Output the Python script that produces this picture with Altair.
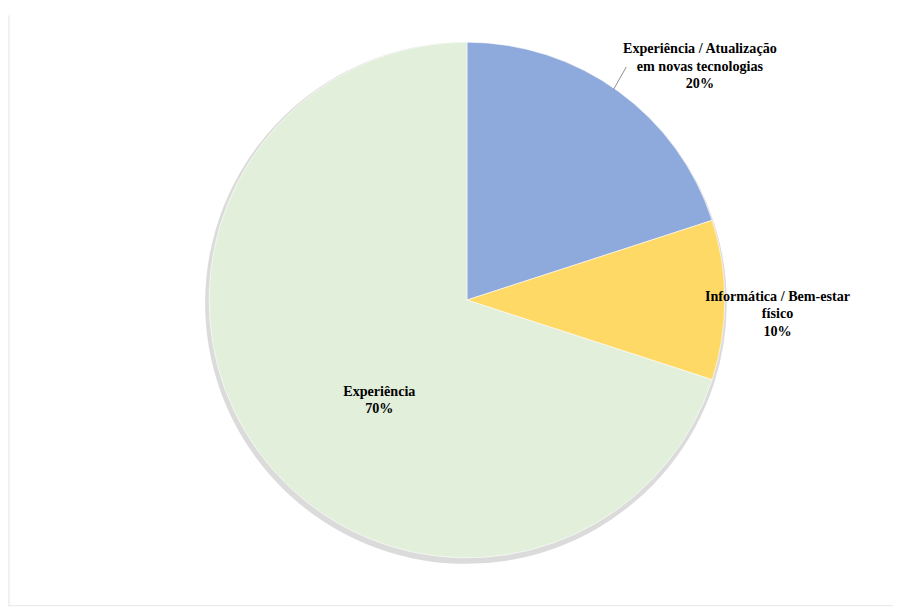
import altair as alt
import pandas as pd

categories = ["Experiência / Atualização em novas tecnologias", "Informática / Bem-estar físico", "Experiência"]
label_lines = [
    ["Experiência / Atualização", "em novas tecnologias", "20%"],
    ["Informática / Bem-estar", "físico", "10%"],
    ["Experiência", "70%"],
]
values = [20, 10, 70]
colors = ["#8EA9DB", "#FFD966", "#E2EFDA"]

df = pd.DataFrame({"cat": categories, "value": values, "idx": list(range(len(values)))})

CX, CY, R = 458, 292, 259

shadow = alt.Chart(df).mark_arc(radius=R + 3, color="#bdbdbd", opacity=0.55).encode(
    theta=alt.Theta("value:Q", stack=True),
    order=alt.Order("idx:Q"),
    x=alt.value(CX - 1), y=alt.value(CY + 3),
)

pie = alt.Chart(df).mark_arc(radius=R, stroke="#ffffff", strokeWidth=0.6).encode(
    theta=alt.Theta("value:Q", stack=True),
    color=alt.Color("cat:N", scale=alt.Scale(domain=categories, range=colors), legend=None),
    order=alt.Order("idx:Q"),
    x=alt.value(CX), y=alt.value(CY),
)

label_pos = [(692, 40), (770, 289), (370, 384)]
text_layers = []
for lines, (px, py) in zip(label_lines, label_pos):
    t = alt.Chart(pd.DataFrame({"t": [lines]})).mark_text(
        font="Liberation Serif", fontWeight="bold", fontSize=14.2, lineHeight=17.5,
        align="center", baseline="middle", color="#000000",
    ).encode(text="t", x=alt.value(px), y=alt.value(py))
    text_layers.append(t)

leader = alt.Chart(pd.DataFrame({"a": [0]})).mark_rule(color="#8c8c8c", strokeWidth=1).encode(
    x=alt.value(618), y=alt.value(58), x2=alt.value(605), y2=alt.value(81)
)

border_l = alt.Chart(pd.DataFrame({"a": [0]})).mark_rule(color="#e4e4e4", strokeWidth=1).encode(
    x=alt.value(-2), y=alt.value(6), y2=alt.value(600)
)
border_b = alt.Chart(pd.DataFrame({"a": [0]})).mark_rule(color="#e8e8e8", strokeWidth=1).encode(
    x=alt.value(-2), x2=alt.value(886), y=alt.value(599)
)

chart = alt.layer(shadow, pie, leader, border_l, border_b, *text_layers).properties(
    width=886, height=596, padding=0
).configure_view(stroke=None)

chart.save("out.html", embed_options={"renderer": "svg", "actions": False})
